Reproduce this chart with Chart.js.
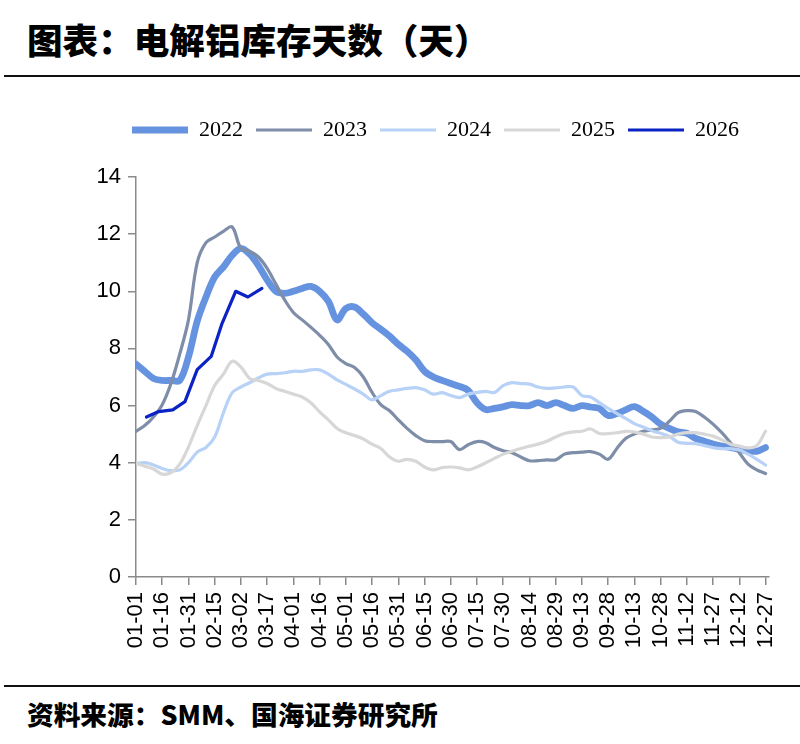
<!DOCTYPE html>
<html>
<head>
<meta charset="utf-8">
<script src="https://cdn.jsdelivr.net/npm/chart.js@4.4.1/dist/chart.umd.min.js"></script>
<style>
  html, body { margin: 0; padding: 0; background: #fff; }
  #page { position: relative; width: 800px; height: 744px; overflow: hidden; }
  #title {
    position: absolute; left: 27px; top: 13px;
    font-family: "Noto Sans CJK SC", sans-serif; font-weight: 900;
    font-size: 35.6px; color: #000; white-space: nowrap;
  }
  .rule { position: absolute; left: 4px; right: 0; height: 2px; background: #111; }
  #chart-box { position: absolute; left: 0; top: 85px; width: 800px; height: 595px; }
  #source {
    position: absolute; left: 27px; top: 694px;
    font-family: "Noto Sans CJK SC", sans-serif; font-weight: 900;
    font-size: 26.7px; color: #000; white-space: nowrap;
  }
</style>
</head>
<body>
<div id="page">
  <div id="title">图表：电解铝库存天数（天）</div>
  <div class="rule" style="top:75px"></div>
  <div id="chart-box"><canvas id="stock-days-chart"></canvas></div>
  <div class="rule" style="top:685px"></div>
  <div id="source">资料来源：SMM、国海证券研究所</div>
</div>
<script>
// x tick labels (one every 15 days)
const tickLabels = ['01-01', '01-16', '01-31', '02-15', '03-02', '03-17', '04-01', '04-16', '05-01',
  '05-16', '05-31', '06-15', '06-30', '07-15', '07-30', '08-14', '08-29', '09-13', '09-28',
  '10-13', '10-28', '11-12', '11-27', '12-12', '12-27'];

// 2022-2025 are read every 5 days starting 01-01
const series2022 = [7.45, 7.2, 6.95, 6.88, 6.88, 6.88, 7.7, 8.95, 9.8, 10.5, 10.85, 11.26, 11.5,
  11.3, 10.9, 10.4, 10.0, 9.93, 10.0, 10.1, 10.17, 10.0, 9.65, 9.0, 9.4, 9.45, 9.2, 8.9, 8.67,
  8.43, 8.14, 7.9, 7.6, 7.2, 7.0, 6.88, 6.77, 6.67, 6.53, 6.1, 5.86, 5.9, 5.96, 6.03, 6.0, 6.0,
  6.1, 6.0, 6.1, 6.0, 5.9, 6.0, 5.95, 5.9, 5.65, 5.72, 5.85, 5.96, 5.8, 5.6, 5.35, 5.2, 5.08,
  5.03, 4.85, 4.75, 4.65, 4.58, 4.53, 4.47, 4.42, 4.4, 4.53];
const series2023 = [5.1, 5.3, 5.6, 6.03, 6.77, 7.8, 9.0, 11.0, 11.7, 11.9, 12.1, 12.25, 11.5,
  11.4, 11.2, 10.8, 10.25, 9.7, 9.26, 9.0, 8.74, 8.46, 8.14, 7.7, 7.47, 7.33, 7.0, 6.46, 6.03,
  5.82, 5.5, 5.2, 4.95, 4.77, 4.74, 4.74, 4.74, 4.46, 4.63, 4.74, 4.7, 4.53, 4.42, 4.35, 4.2,
  4.07, 4.07, 4.1, 4.1, 4.3, 4.35, 4.37, 4.39, 4.3, 4.12, 4.5, 4.85, 5.0, 5.1, 5.15, 5.2, 5.45,
  5.75, 5.82, 5.79, 5.6, 5.35, 5.05, 4.7, 4.35, 3.95, 3.75, 3.62];
const series2024 = [3.98, 4.0, 3.92, 3.8, 3.72, 3.75, 4.0, 4.37, 4.53, 4.9, 5.75, 6.45, 6.65,
  6.8, 6.97, 7.1, 7.12, 7.15, 7.2, 7.2, 7.25, 7.25, 7.1, 6.9, 6.74, 6.58, 6.4, 6.2, 6.35, 6.5,
  6.55, 6.6, 6.63, 6.55, 6.4, 6.45, 6.35, 6.28, 6.4, 6.46, 6.5, 6.46, 6.7, 6.8, 6.77, 6.75,
  6.65, 6.6, 6.62, 6.65, 6.65, 6.35, 6.3, 6.1, 5.9, 5.72, 5.55, 5.37, 5.25, 5.12, 5.03, 4.92,
  4.72, 4.68, 4.67, 4.6, 4.53, 4.49, 4.49, 4.45, 4.3, 4.12, 3.92];
const series2025 = [3.98, 3.88, 3.78, 3.6, 3.65, 3.95, 4.55, 5.3, 6.0, 6.7, 7.1, 7.55, 7.35,
  6.95, 6.88, 6.77, 6.6, 6.5, 6.4, 6.3, 6.1, 5.78, 5.5, 5.2, 5.05, 4.95, 4.83, 4.65, 4.5, 4.2,
  4.05, 4.12, 4.05, 3.85, 3.75, 3.83, 3.85, 3.82, 3.75, 3.85, 4.0, 4.15, 4.3, 4.4, 4.5, 4.58,
  4.65, 4.75, 4.9, 5.02, 5.08, 5.1, 5.18, 5.02, 5.02, 5.05, 5.1, 5.08, 5.0, 4.9, 4.88, 4.9, 5.0,
  5.05, 5.05, 5.0, 4.93, 4.8, 4.65, 4.58, 4.52, 4.6, 5.1];

// 2026 is weekly
const dates2026 = ['01-07', '01-14', '01-22', '01-29', '02-05', '02-13', '02-19', '02-27', '03-06', '03-14'];
const series2026 = [5.6, 5.79, 5.85, 6.14, 7.26, 7.72, 8.84, 10.0, 9.8, 10.1];

const SAMPLE_STEP = 5;
const MONTH_START = [0, 31, 59, 90, 120, 151, 181, 212, 243, 273, 304, 334];

function dayOfYear(mmdd) {
    const [m, d] = mmdd.split('-').map(Number);
    return MONTH_START[m - 1] + d - 1;
}

function everyFiveDays(values) {
    return values.map((v, i) => ({ x: i * SAMPLE_STEP, y: v }));
}

const AXIS_GREY = '#8a8a8a';
const SANS = '"Liberation Sans", Arial, sans-serif';
const SERIF = '"Liberation Serif", "Times New Roman", serif';

function lineSet(label, data, color, width, order, tension) {
    return {
        label: label,
        data: data,
        borderColor: color,
        backgroundColor: color,
        borderWidth: width,
        borderCapStyle: 'round',
        borderJoinStyle: 'round',
        pointRadius: 0,
        pointHoverRadius: 0,
        fill: false,
        tension: tension,
        order: order
    };
}

// extra gap under the legend, and nudge it a little to the right
const legendGap = {
    id: 'legendGap',
    beforeInit(chart) {
        const fit = chart.legend.fit;
        chart.legend.fit = function () {
            fit.bind(chart.legend)();
            this.height += 26;
        };
    },
    afterLayout(chart) {
        chart.legend.left += 12;
    }
};

const ctx = document.getElementById('stock-days-chart').getContext('2d');
new Chart(ctx, {
    type: 'line',
    data: {
        datasets: [
            lineSet('2022', everyFiveDays(series2022), '#6693e0', 6.8, 5, 0.35),
            lineSet('2023', everyFiveDays(series2023), '#7e8da8', 3.2, 4, 0.35),
            lineSet('2024', everyFiveDays(series2024), '#b7d2f6', 3.2, 3, 0.35),
            lineSet('2025', everyFiveDays(series2025), '#d7d7d7', 3.2, 2, 0.35),
            lineSet('2026', dates2026.map((d, i) => ({ x: dayOfYear(d), y: series2026[i] })), '#0b23c4', 3.2, 1, 0)
        ]
    },
    plugins: [legendGap],
    options: {
        responsive: true,
        maintainAspectRatio: false,
        animation: false,
        layout: {
            padding: { left: 90, right: 31, top: 21, bottom: 23 }
        },
        plugins: {
            tooltip: { enabled: false },
            legend: {
                display: true,
                position: 'top',
                labels: {
                    usePointStyle: true,
                    pointStyle: 'line',
                    pointStyleWidth: 56,
                    padding: 13,
                    color: '#000',
                    font: { family: SERIF, size: 22 },
                    sort: (a, b) => a.datasetIndex - b.datasetIndex
                }
            }
        },
        scales: {
            x: {
                type: 'linear',
                min: 0,
                max: 362,
                afterFit: (scale) => { scale.height = 80; },
                ticks: {
                    stepSize: 15,
                    autoSkip: false,
                    includeBounds: false,
                    maxRotation: 90,
                    minRotation: 90,
                    padding: 7,
                    color: '#000',
                    font: { family: SANS, size: 22 },
                    callback: (value) => tickLabels[value / 15]
                },
                grid: {
                    drawOnChartArea: false,
                    tickLength: 8,
                    color: AXIS_GREY,
                    lineWidth: 1.5
                },
                border: { color: AXIS_GREY, width: 1.5 }
            },
            y: {
                min: 0,
                max: 14,
                afterFit: (scale) => { scale.width = 46; },
                ticks: {
                    stepSize: 2,
                    padding: 7,
                    color: '#000',
                    font: { family: SANS, size: 22 }
                },
                grid: {
                    drawOnChartArea: false,
                    tickLength: 8,
                    color: AXIS_GREY,
                    lineWidth: 1.5
                },
                border: { color: AXIS_GREY, width: 1.5 }
            }
        }
    }
});
</script>
</body>
</html>
